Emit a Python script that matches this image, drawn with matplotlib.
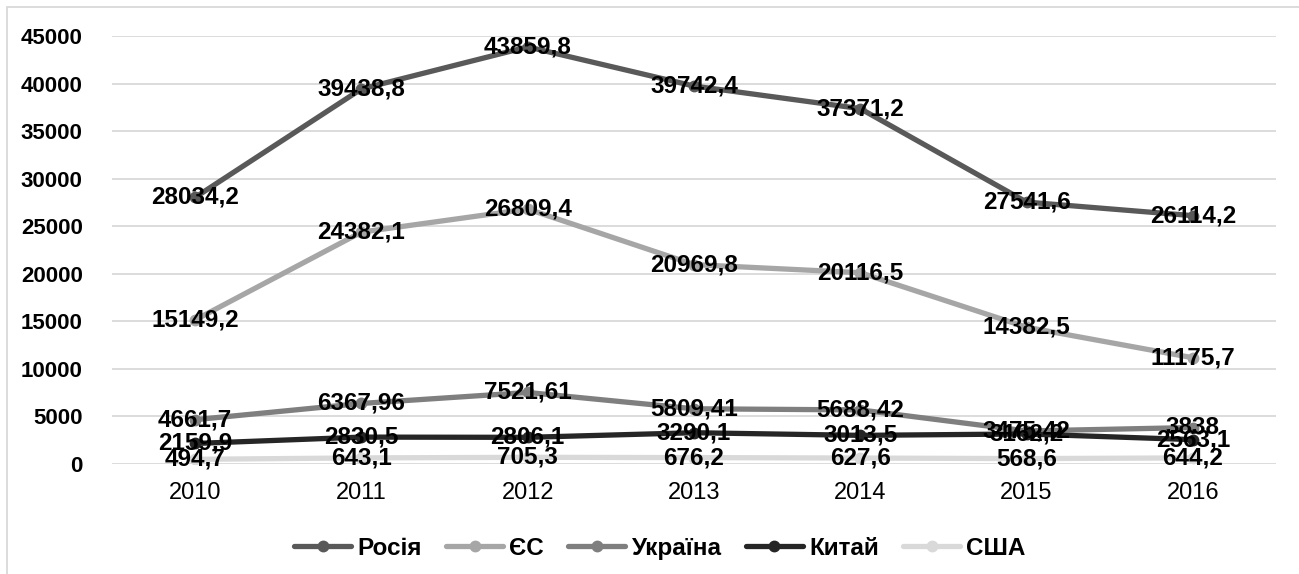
import matplotlib
matplotlib.use("Agg")
import matplotlib.pyplot as plt
from matplotlib.patches import Rectangle

plt.rcParams['font.family'] = ['Liberation Sans', 'DejaVu Sans']

years = ['2010', '2011', '2012', '2013', '2014', '2015', '2016']
russia = [28034.2, 39438.8, 43859.8, 39742.4, 37371.2, 27541.6, 26114.2]
eu = [15149.2, 24382.1, 26809.4, 20969.8, 20116.5, 14382.5, 11175.7]
ukraine = [4661.7, 6367.96, 7521.61, 5809.41, 5688.42, 3475.42, 3838]
china = [2159.9, 2830.5, 2806.1, 3290.1, 3013.5, 3162.2, 2563.1]
usa = [494.7, 643.1, 705.3, 676.2, 627.6, 568.6, 644.2]

series = [
    ('Росія', russia, '#595959'),
    ('ЄС', eu, '#a6a6a6'),
    ('Україна', ukraine, '#7f7f7f'),
    ('Китай', china, '#262626'),
    ('США', usa, '#d9d9d9'),
]

fig = plt.figure(figsize=(12.99, 5.74), dpi=100)
ax = fig.add_axes([0.0862, 0.1916, 0.8961, 0.7456])

x = range(len(years))
for name, vals, col in series:
    ax.plot(x, vals, color=col, lw=3.8, marker='o', markersize=7.5,
            label=name, solid_capstyle='round', zorder=3)

# data labels centred on the points
for name, vals, col in series:
    for i, v in zip(x, vals):
        txt = ('%g' % v).replace('.', ',')
        ax.text(i, v, txt, ha='center', va='center', fontsize=17.5,
                fontweight='bold', color='black', zorder=5)

ax.set_xlim(-0.5, len(years) - 0.5)
ax.set_ylim(0, 45000)
ax.set_yticks(range(0, 45001, 5000))
ax.set_xticks(list(x))
ax.set_xticklabels(years, fontsize=17)
for lab in ax.get_yticklabels():
    lab.set_fontweight('bold')
    lab.set_fontsize(16)
ax.tick_params(axis='both', length=0)
ax.tick_params(axis='y', pad=21)
ax.tick_params(axis='x', pad=13)
ax.grid(axis='y', color='#d9d9d9', lw=1.3, zorder=0)
ax.set_axisbelow(True)
for s in ax.spines.values():
    s.set_visible(False)

leg = fig.legend(loc='center', bbox_to_anchor=(0.508, 0.045), ncol=5,
                 frameon=False, handlelength=2.35, columnspacing=1.0,
                 handletextpad=0.25, prop={'weight': 'bold', 'size': 17.5})

fig.patches.append(Rectangle((7 / 1299, -0.1), 1.2, 1.1 - 7 / 574,
                             transform=fig.transFigure, fill=False,
                             edgecolor='#d9d9d9', lw=1.3))

fig.savefig('out.png', dpi=100)
